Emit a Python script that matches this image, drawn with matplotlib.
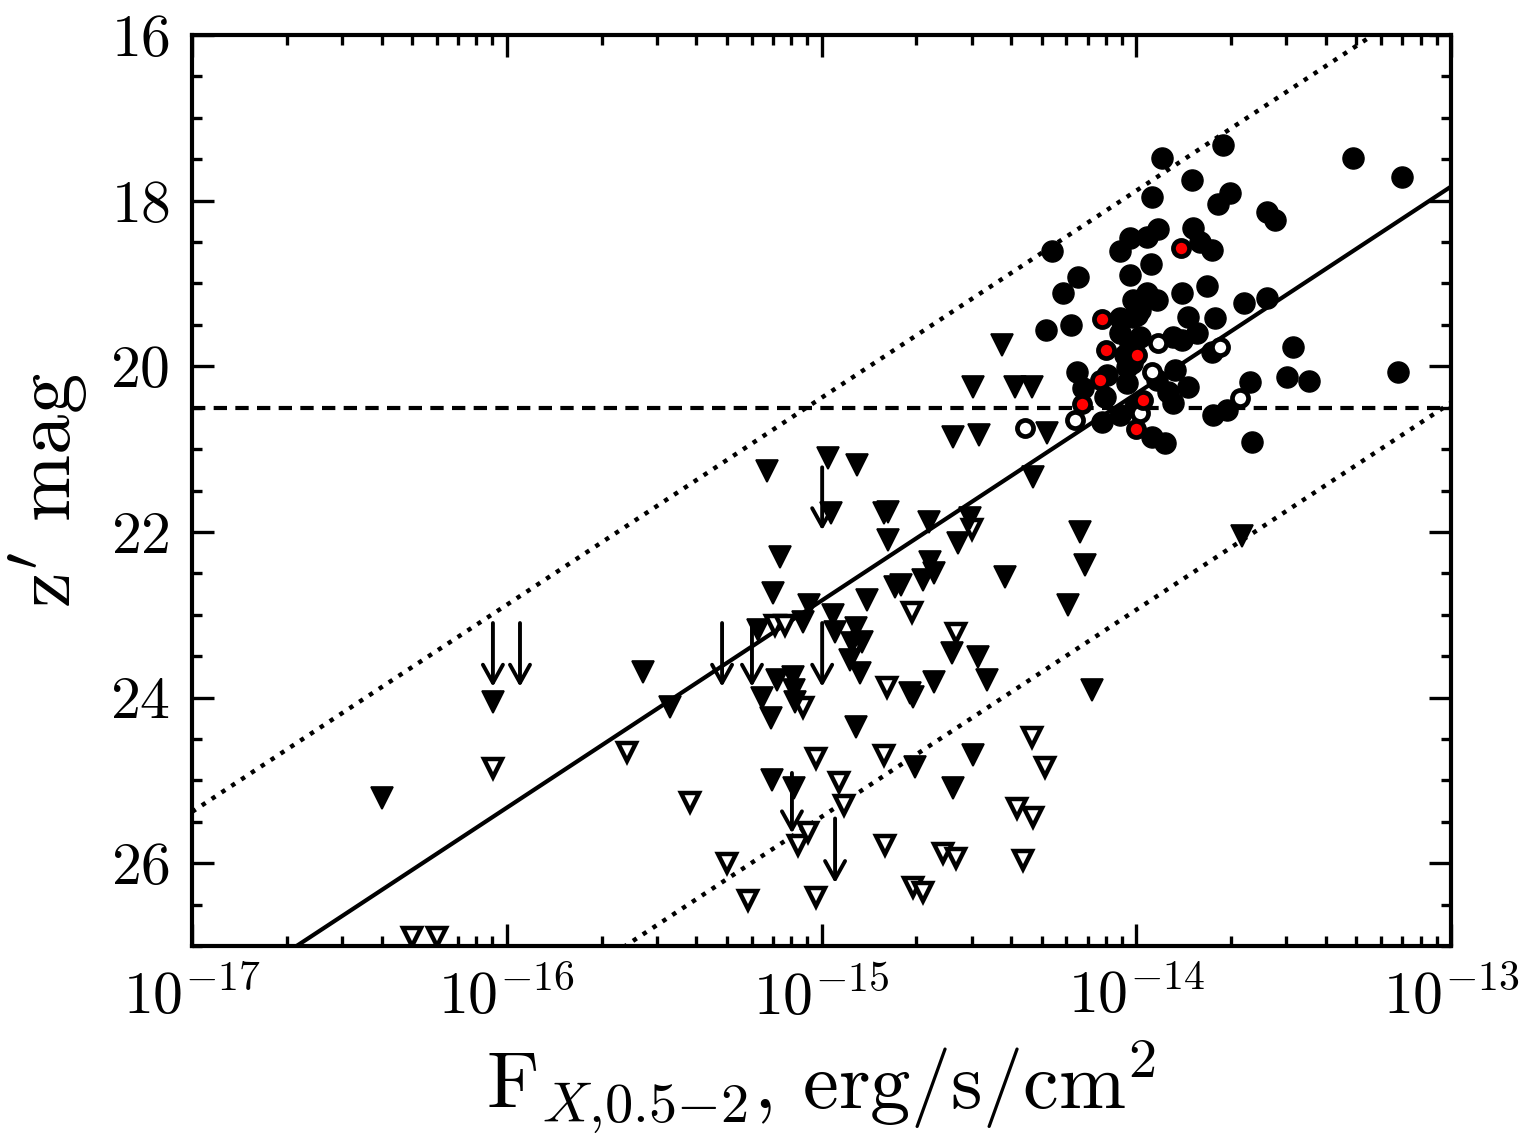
import matplotlib
matplotlib.use("Agg")
import matplotlib.pyplot as plt
import numpy as np
from matplotlib.ticker import LogLocator, MultipleLocator, NullFormatter

plt.rcParams["font.family"] = "serif"
plt.rcParams["font.serif"] = ["cmr10", "DejaVu Serif"]
plt.rcParams["mathtext.fontset"] = "cm"
plt.rcParams["axes.formatter.use_mathtext"] = True
plt.rcParams["axes.unicode_minus"] = False

# log10 of soft X-ray flux and z' magnitude per class of source
circ_logf = [-13.724, -13.917, -13.822, -13.702, -13.739, -13.949, -13.584, -13.559,
             -14.267, -14.184, -14.232, -14.051, -14.019, -13.965, -13.930, -13.819,
             -13.797, -13.759, -13.952, -14.019, -13.775, -13.854, -13.657, -13.584,
             -14.010, -13.965, -13.933, -13.835, -13.749, -14.051, -13.997, -14.206,
             -14.286, -13.311, -13.155, -13.502, -13.521, -13.451, -13.168, -13.987,
             -13.883, -13.854, -13.806, -13.759, -14.187, -14.092, -14.168, -14.099,
             -14.108, -14.051, -14.029, -14.029, -13.933, -13.876, -13.898, -13.883,
             -14.003, -13.949, -13.908, -13.638, -13.756, -13.712, -13.632, -14.010,
             -14.051, -14.019, -13.987, -14.035, -14.013, -13.835]
circ_mag = [17.33, 17.49, 17.75, 17.91, 18.04, 17.96, 18.14, 18.23,
            18.61, 18.92, 19.11, 18.61, 18.45, 18.44, 18.34, 18.33,
            18.50, 18.60, 18.76, 18.90, 19.03, 19.11, 19.24, 19.18,
            19.20, 19.11, 19.20, 19.40, 19.42, 19.42, 19.38, 19.50,
            19.56, 17.49, 17.71, 19.77, 20.13, 20.18, 20.07, 19.32,
            19.65, 19.68, 19.60, 19.83, 20.07, 20.10, 20.26, 20.37,
            20.67, 20.59, 20.20, 20.01, 20.16, 20.04, 20.31, 20.44,
            20.49, 20.85, 20.93, 20.19, 20.59, 20.53, 20.91, 19.40,
            19.60, 19.72, 19.65, 19.86, 19.96, 20.25]

red_logf = [-13.857, -14.108, -14.096, -14.115, -14.172, -13.978, -14.000, -13.997]
red_mag = [18.57, 19.43, 19.80, 20.16, 20.45, 20.41, 20.76, 19.86]

open_logf = [-13.931, -13.734, -14.354, -14.195, -13.670, -13.987, -13.949]
open_mag = [19.72, 19.77, 20.74, 20.65, 20.38, 20.56, 20.07]

tri_logf = [-14.426, -14.518, -14.385, -14.331, -14.581, -14.499, -14.283, -14.328,
            -14.790, -14.660, -14.527, -14.568, -14.654, -14.679, -14.644, -14.749,
            -14.416, -14.178, -14.162, -14.216, -14.584, -14.502, -14.473, -14.644,
            -14.708, -14.140, -14.978, -14.886, -15.172, -14.971, -14.803, -14.790,
            -15.131, -15.153, -15.041, -15.060, -15.203, -14.965, -14.958, -14.889,
            -14.768, -14.854, -14.902, -14.870, -14.911, -14.879, -14.720, -15.140,
            -15.092, -15.189, -15.089, -15.083, -15.159, -14.889, -14.702, -15.156,
            -15.089, -14.518, -14.581, -16.044, -15.567, -15.481, -16.396, -13.664]
tri_mag = [19.74, 20.25, 20.25, 20.25, 20.85, 20.83, 20.80, 21.34,
           21.76, 21.88, 21.83, 22.13, 22.36, 22.58, 22.49, 22.64,
           22.55, 22.00, 22.40, 22.88, 23.46, 23.51, 23.79, 23.81,
           23.99, 23.91, 21.11, 21.19, 21.27, 21.77, 21.77, 22.10,
           22.30, 22.74, 22.88, 23.09, 23.18, 23.00, 23.21, 23.16,
           22.66, 22.82, 23.34, 23.33, 23.55, 23.70, 23.94, 23.79,
           23.75, 24.00, 23.91, 24.05, 24.25, 24.35, 24.84, 24.99,
           25.09, 24.69, 25.09, 24.05, 23.69, 24.11, 25.21, 22.05]

otri_logf = [-14.521, -14.714, -15.148, -15.116, -14.572, -14.889, -14.791, -15.060,
             -14.331, -15.019, -14.800, -14.946, -14.930, -15.076, -15.044, -15.300,
             -15.234, -15.019, -14.797, -14.710, -14.290, -14.378, -14.328, -14.613,
             -14.572, -14.360, -14.679, -15.618, -16.044, -15.418, -16.301, -16.222]
otri_mag = [21.97, 22.97, 23.12, 23.12, 23.22, 23.36, 23.87, 24.11,
            24.48, 24.73, 24.69, 25.02, 25.30, 25.78, 25.62, 26.00,
            26.44, 26.41, 25.78, 26.29, 24.84, 25.33, 25.44, 25.88,
            25.94, 25.96, 26.35, 24.66, 24.85, 25.26, 26.89, 26.89]

# upper limits drawn as arrows: log flux, start mag, end mag
arr_logf = [-16.044, -15.958, -15.316, -15.221, -14.998, -14.998, -15.094, -14.957]
arr_top = [23.10, 23.10, 23.10, 23.10, 23.10, 21.22, 24.91, 25.46]
arr_bot = [23.87, 23.87, 23.87, 23.87, 23.87, 21.98, 25.64, 26.24]

# z' = -2.5 log F + c
c_mid, c_hi, c_lo = -14.67, -17.12, -12.06
z_cut = 20.5

fig = plt.figure(figsize=(7.68, 5.735), dpi=200)
ax = fig.add_axes([0.125, 0.1752, 0.8197, 0.7943])

xx = np.logspace(-17, -13, 200)
ax.plot(xx, -2.5 * np.log10(xx) + c_mid, "k-", lw=1.5)
ax.plot(xx, -2.5 * np.log10(xx) + c_hi, "k:", lw=1.6)
ax.plot(xx, -2.5 * np.log10(xx) + c_lo, "k:", lw=1.6)
ax.axhline(z_cut, color="k", ls="--", lw=1.5, dashes=(3.2, 2.0))

for lf, y0, y1 in zip(arr_logf, arr_top, arr_bot):
    ax.annotate("", xy=(10**lf, y1), xytext=(10**lf, y0),
                arrowprops=dict(arrowstyle="->,head_length=0.65,head_width=0.36",
                                lw=1.4, color="k", shrinkA=0, shrinkB=0,
                                mutation_scale=10))

ax.plot(10**np.array(otri_logf), otri_mag, "v", ms=6.6, mfc="white", mec="k", mew=1.6)
ax.plot(10**np.array(tri_logf), tri_mag, "v", ms=7.6, mfc="k", mec="k", mew=0.6)
ax.plot(10**np.array(circ_logf), circ_mag, "o", ms=7.6, mfc="k", mec="k", mew=0.5)
ax.plot(10**np.array(open_logf), open_mag, "o", ms=5.8, mfc="white", mec="k", mew=1.7)
ax.plot(10**np.array(red_logf), red_mag, "o", ms=5.8, mfc="red", mec="k", mew=1.7)

ax.set_xscale("log")
ax.set_xlim(1e-17, 1e-13)
ax.set_ylim(27, 16)
ax.yaxis.set_major_locator(MultipleLocator(2))
ax.yaxis.set_minor_locator(MultipleLocator(0.5))
ax.xaxis.set_major_locator(LogLocator(base=10, numticks=10))
ax.xaxis.set_minor_locator(LogLocator(base=10, subs=np.arange(2, 10), numticks=20))
ax.xaxis.set_minor_formatter(NullFormatter())

ax.tick_params(which="both", direction="in", top=True, right=True, width=1.2)
ax.tick_params(which="major", length=8, labelsize=21.5, pad=8)
ax.tick_params(which="minor", length=3.6)
for s in ax.spines.values():
    s.set_linewidth(1.5)

ax.set_xlabel(r"$\mathrm{F}_{X{,}0.5{-}2}$, erg/s/cm$^{2}$", fontsize=29, labelpad=4)
ax.set_ylabel(r"$\mathrm{z}^{\prime}$ mag", fontsize=29, labelpad=7)

fig.savefig("out.png", dpi=200)
